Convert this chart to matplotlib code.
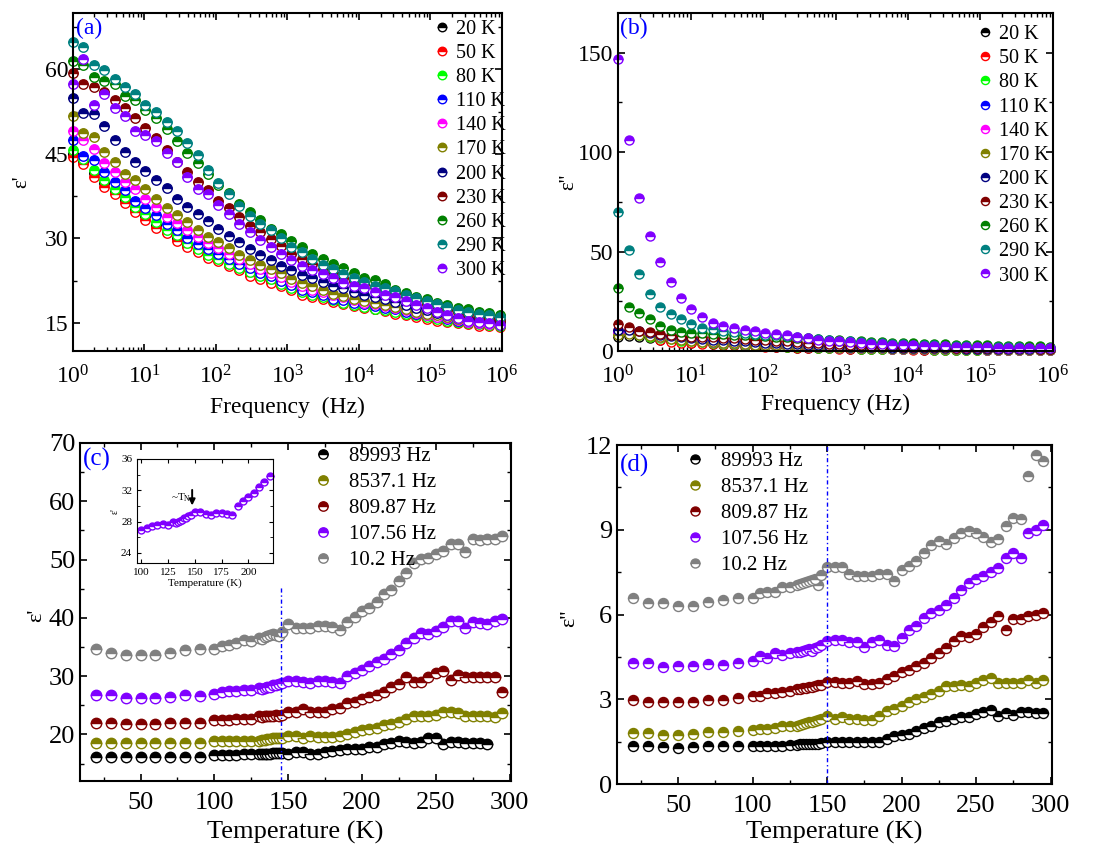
import numpy as np
import matplotlib.pyplot as plt
from matplotlib.ticker import MultipleLocator

plt.rcParams['font.family'] = ['Liberation Serif', 'DejaVu Serif']
plt.rcParams['mathtext.fontset'] = 'stix'

# ---------------- frequency sweep (panels a, b) ----------------
freq = [1.0, 1.40, 1.95, 2.73, 3.82, 5.34, 7.47, 10.2, 14.6, 20.4,
        28.5, 39.8, 55.7, 77.8, 107.56, 152, 213, 297, 416, 581,
        809.87, 1135, 1587, 2219, 3102, 4336, 6062, 8537.1, 11848, 16563,
        23155, 32371, 45254, 63265, 89993, 123645, 172856, 241652, 337830, 472286,
        660256, 923038]

temps_f = ['20 K', '50 K', '80 K', '110 K', '140 K', '170 K',
           '200 K', '230 K', '260 K', '290 K', '300 K']
colors_f = ['black', '#FF0000', '#00FF00', '#0000FF', '#FF00FF', '#808000',
            '#000080', '#800000', '#008000', '#008080', '#8000FF']

# real part eps'
e1_20 = [45.0, 43.6, 41.6, 39.8, 38.4, 36.8, 35.2, 33.9, 32.4, 31.2, 30.1, 28.8, 27.8, 26.8,
         26.1, 25.3, 24.6, 23.8, 23.0, 22.4, 21.7, 21.0, 20.3, 19.8, 19.4, 18.9, 18.5, 18.1,
         17.8, 17.5, 17.2, 16.8, 16.5, 16.2, 15.9, 15.6, 15.3, 15.1, 14.9, 14.7, 14.6, 14.6]
e1_50 = [44.5, 43.2, 40.8, 39.1, 37.9, 36.3, 34.7, 33.3, 31.8, 30.9, 29.6, 28.4, 27.5, 26.5,
         25.9, 25.1, 24.3, 23.3, 22.7, 22.1, 21.5, 20.8, 20.0, 19.6, 19.2, 18.7, 18.4, 18.0,
         17.7, 17.4, 17.1, 16.6, 16.3, 16.0, 15.7, 15.4, 15.1, 14.9, 14.7, 14.5, 14.4, 14.3]
e1_80 = [45.7, 44.0, 42.2, 40.3, 38.8, 37.3, 35.6, 34.4, 32.9, 31.4, 30.5, 29.1, 28.1, 27.1,
         26.3, 25.5, 24.8, 24.1, 23.3, 22.7, 21.9, 21.1, 20.5, 20.0, 19.6, 19.0, 18.6, 18.1,
         17.8, 17.5, 17.2, 17.0, 16.6, 16.3, 16.0, 15.7, 15.4, 15.1, 14.9, 14.7, 14.6, 14.5]
e1_110 = [47.4, 44.7, 43.9, 41.8, 40.0, 38.5, 36.7, 35.3, 34.1, 32.6, 31.5, 30.1, 29.0, 28.1,
          27.2, 26.3, 25.4, 24.7, 23.9, 23.3, 22.5, 21.7, 20.9, 20.5, 19.9, 19.3, 19.0, 18.6,
          18.3, 18.0, 17.7, 17.4, 17.0, 16.6, 16.3, 16.0, 15.7, 15.4, 15.2, 15.0, 14.9, 14.8]
e1_140 = [49.1, 47.5, 45.8, 43.4, 41.8, 40.0, 38.7, 37.0, 35.6, 33.8, 32.7, 31.5, 30.2, 29.1,
          28.3, 27.3, 26.3, 25.4, 24.5, 23.9, 23.1, 22.3, 21.5, 20.9, 20.5, 19.9, 19.5, 19.0,
          18.6, 18.3, 18.0, 17.6, 17.2, 16.8, 16.4, 16.1, 15.8, 15.5, 15.2, 15.0, 14.8, 14.7]
e1_170 = [51.7, 48.7, 48.0, 45.4, 43.6, 41.5, 40.3, 38.7, 36.9, 35.3, 34.1, 32.9, 31.4, 30.2,
          29.3, 28.3, 27.1, 26.1, 25.3, 24.5, 23.9, 22.7, 22.1, 21.5, 20.9, 20.2, 19.8, 19.3,
          18.9, 18.6, 18.1, 17.8, 17.4, 17.0, 16.6, 16.3, 16.0, 15.7, 15.5, 15.3, 15.1, 15.0]
e1_200 = [54.9, 52.2, 52.0, 49.9, 47.5, 45.4, 43.5, 42.0, 40.4, 39.0, 36.9, 35.6, 34.4, 33.0,
          31.7, 30.4, 29.3, 28.1, 27.1, 26.1, 25.1, 24.3, 23.5, 22.9, 22.3, 21.5, 21.1, 20.5,
          20.0, 19.6, 19.2, 18.7, 18.2, 17.7, 17.2, 16.8, 16.4, 16.0, 15.8, 15.6, 15.4, 15.3]
e1_230 = [59.3, 57.4, 56.9, 56.0, 54.6, 53.1, 51.4, 49.6, 47.8, 45.7, 43.6, 41.8, 40.0, 38.5,
          36.7, 35.3, 33.8, 32.1, 31.1, 29.9, 28.7, 27.2, 26.3, 25.4, 24.5, 23.9, 23.0, 22.4,
          21.8, 21.4, 20.9, 20.3, 19.7, 19.0, 18.4, 17.9, 17.3, 16.9, 16.5, 16.1, 15.8, 15.5]
e1_260 = [61.4, 60.8, 58.6, 58.0, 57.4, 55.2, 54.5, 52.7, 51.4, 49.4, 47.2, 45.2, 43.3, 41.5,
          39.4, 38.0, 36.1, 34.6, 33.3, 31.7, 30.8, 29.5, 28.4, 27.3, 26.3, 25.4, 24.8, 23.9,
          22.9, 22.6, 21.8, 20.9, 20.3, 19.6, 19.2, 18.6, 18.1, 17.7, 17.4, 17.0, 16.7, 16.4]
e1_290 = [64.9, 64.0, 60.7, 59.9, 58.3, 56.9, 55.6, 53.7, 52.4, 50.6, 49.1, 46.9, 44.8, 42.1,
          39.8, 37.9, 35.8, 34.0, 32.6, 31.4, 30.1, 28.5, 27.5, 26.3, 25.3, 24.5, 23.6, 22.9,
          22.3, 21.5, 21.2, 20.6, 20.0, 19.4, 18.8, 18.3, 17.8, 17.3, 17.0, 16.6, 16.3, 16.0]
e1_300 = [57.4, 61.9, 53.6, 55.6, 53.1, 51.7, 49.0, 48.4, 47.2, 45.1, 43.6, 40.9, 38.8, 37.9,
          36.0, 34.4, 32.6, 31.1, 29.7, 28.4, 27.3, 26.1, 25.1, 24.3, 23.6, 22.9, 22.1, 21.5,
          21.1, 20.5, 20.0, 19.5, 18.9, 18.2, 17.6, 17.0, 16.4, 15.9, 15.4, 15.1, 14.9, 14.6]

# imaginary part eps''
e2_20 = [7.0, 7.5, 7.0, 6.3, 5.6, 5.0, 4.5, 4.1, 3.8, 3.5, 3.2, 2.9, 2.7, 2.5, 2.3, 2.1, 1.9,
         1.7, 1.6, 1.5, 1.4, 1.3, 1.2, 1.1, 1.0, 0.9, 0.9, 0.8, 0.8, 0.7, 0.7, 0.6, 0.6, 0.6,
         0.5, 0.5, 0.5, 0.5, 0.5, 0.4, 0.4, 0.4]
e2_50 = [10.5, 10.0, 8.5, 7.0, 5.5, 4.5, 4.2, 4.0, 3.7, 3.4, 3.1, 2.9, 2.6, 2.4, 2.2, 2.0, 1.8,
         1.7, 1.5, 1.4, 1.3, 1.2, 1.1, 1.0, 0.9, 0.9, 0.8, 0.8, 0.7, 0.7, 0.6, 0.6, 0.6, 0.5,
         0.5, 0.5, 0.5, 0.5, 0.4, 0.4, 0.4, 0.4]
e2_80 = [8.5, 8.8, 8.0, 7.2, 6.5, 5.8, 5.2, 4.8, 4.4, 4.0, 3.7, 3.4, 3.1, 2.8, 2.6, 2.4, 2.2,
         2.0, 1.8, 1.7, 1.5, 1.4, 1.3, 1.2, 1.1, 1.0, 0.9, 0.9, 0.8, 0.8, 0.7, 0.7, 0.7, 0.6,
         0.6, 0.6, 0.5, 0.5, 0.5, 0.5, 0.5, 0.5]
e2_110 = [9.5, 9.8, 9.2, 8.5, 7.5, 6.8, 6.2, 5.6, 5.1, 4.7, 4.3, 4.0, 3.7, 3.4, 3.1, 2.9, 2.6,
          2.4, 2.2, 2.0, 1.9, 1.7, 1.6, 1.5, 1.4, 1.3, 1.2, 1.1, 1.0, 1.0, 0.9, 0.9, 0.8, 0.8,
          0.8, 0.7, 0.7, 0.7, 0.7, 0.6, 0.6, 0.6]
e2_140 = [9.0, 9.0, 8.5, 7.8, 7.0, 6.3, 5.8, 5.3, 4.9, 4.5, 4.2, 3.9, 3.6, 3.3, 3.0, 2.8, 2.6,
          2.4, 2.2, 2.0, 1.9, 1.7, 1.6, 1.5, 1.4, 1.3, 1.2, 1.1, 1.0, 1.0, 0.9, 0.9, 0.8, 0.8,
          0.8, 0.7, 0.7, 0.7, 0.7, 0.6, 0.6, 0.6]
e2_170 = [8.0, 8.5, 8.0, 7.5, 6.8, 6.0, 5.5, 5.0, 4.7, 4.4, 4.1, 3.8, 3.5, 3.2, 3.0, 2.8, 2.6,
          2.4, 2.2, 2.0, 1.8, 1.7, 1.6, 1.5, 1.4, 1.3, 1.2, 1.1, 1.0, 1.0, 0.9, 0.9, 0.8, 0.8,
          0.8, 0.7, 0.7, 0.7, 0.7, 0.6, 0.6, 0.6]
e2_200 = [10.5, 10.5, 10.0, 9.0, 8.0, 7.3, 6.8, 6.4, 6.0, 5.7, 5.4, 5.1, 4.8, 4.5, 4.2, 3.9,
          3.6, 3.3, 3.0, 2.8, 2.6, 2.4, 2.2, 2.0, 1.9, 1.8, 1.7, 1.6, 1.5, 1.4, 1.4, 1.3, 1.3,
          1.2, 1.2, 1.1, 1.1, 1.1, 1.0, 1.0, 1.0, 1.0]
e2_230 = [13.4, 12.0, 10.0, 9.6, 8.7, 8.0, 7.5, 7.2, 7.0, 6.8, 6.5, 6.3, 6.0, 5.7, 5.4, 5.1,
          4.8, 4.5, 4.2, 3.9, 3.6, 3.3, 3.1, 2.9, 2.7, 2.5, 2.4, 2.2, 2.1, 2.0, 1.9, 1.8, 1.7,
          1.6, 1.5, 1.5, 1.4, 1.4, 1.3, 1.3, 1.2, 1.2]
e2_260 = [31.5, 22.0, 19.3, 16.0, 12.6, 10.6, 9.7, 9.2, 8.8, 8.6, 8.4, 8.2, 8.0, 7.8, 7.5, 7.2,
          6.9, 6.6, 6.3, 6.0, 5.7, 5.4, 5.1, 4.8, 4.6, 4.4, 4.2, 4.0, 3.8, 3.6, 3.4, 3.3, 3.1,
          3.0, 2.9, 2.8, 2.7, 2.6, 2.5, 2.4, 2.3, 2.2]
e2_290 = [70.0, 51.0, 38.6, 28.5, 22.3, 18.5, 16.0, 13.4, 11.4, 10.9, 10.0, 9.5, 9.0, 8.6, 8.2,
          7.8, 7.3, 6.9, 6.4, 6.0, 5.6, 5.2, 4.8, 4.5, 4.2, 3.9, 3.6, 3.4, 3.2, 3.0, 2.8, 2.6,
          2.5, 2.3, 2.2, 2.1, 2.0, 1.9, 1.8, 1.7, 1.6, 1.5]
e2_300 = [147.0, 106.0, 77.0, 58.0, 45.0, 34.7, 26.6, 21.0, 17.0, 14.3, 12.6, 11.6, 10.7, 10.0,
          9.2, 8.5, 7.8, 7.0, 6.3, 5.7, 5.2, 4.8, 4.4, 4.0, 3.7, 3.4, 3.2, 3.0, 2.8, 2.6, 2.4,
          2.3, 2.1, 2.0, 1.9, 1.8, 1.7, 1.6, 1.5, 1.5, 1.4, 1.4]

# ---------------- temperature sweep (panels c, d) ----------------
temp = [20, 30, 40, 50, 60, 70, 80, 90,
        100, 105, 110, 115, 120, 125,
        130, 132, 134, 136, 138, 140, 142, 144, 146,
        150, 155, 160, 165, 170, 175, 180, 185, 190, 195,
        200, 205, 210, 215, 220, 225, 230, 235, 240, 245,
        250, 255, 260, 265, 270, 275, 280, 285, 290, 295]

freq_labels = ['89993 Hz', '8537.1 Hz', '809.87 Hz', '107.56 Hz', '10.2 Hz']
colors_t = ['black', '#808000', '#800000', '#8000FF', '#808080']
nan = np.nan

c_89993 = [16.2, 16.2, 16.2, 16.2, 16.2, 16.2, 16.2, 16.2,
           16.4, 16.4, 16.5, 16.5, 16.6, 16.6,
           16.6, 16.6, 16.7, 16.7, 16.7, 16.8, 16.8, 16.8, 16.8,
           16.7, 17.0, 17.0, 16.6, 16.6, 17.0, 17.1, 17.4, 17.5, 17.5,
           17.5, 17.8, 17.9, 18.3, 18.5, 18.9, 18.7, 18.5, 18.7, 19.3,
           19.3, 18.3, 18.7, 18.7, 18.5, 18.5, 18.5, 18.4, nan, nan]
c_8537 = [18.5, 18.5, 18.5, 18.5, 18.5, 18.5, 18.5, 18.5,
          18.8, 18.8, 18.8, 18.8, 18.8, 18.8,
          18.9, 19.0, 19.1, 19.2, 19.2, 19.3, 19.3, 19.3, 19.4,
          19.8, 19.8, 19.3, 19.7, 19.5, 19.5, 19.5, 19.7, 20.1, 20.4,
          20.7, 21.0, 21.1, 21.6, 21.8, 22.1, 22.7, 23.1, 23.1, 23.1,
          23.4, 23.9, 23.9, 23.6, 23.1, 23.1, 23.1, 23.1, 23.0, 23.7]
c_809 = [22.0, 22.0, 21.7, 21.7, 21.7, 22.0, 22.0, 22.0,
         22.4, 22.4, 22.4, 22.7, 22.7, 22.7,
         23.1, 23.0, 23.1, 23.2, 23.1, 23.2, 23.3, 23.1, 23.3,
         23.9, 23.9, 24.3, 23.9, 23.9, 23.9, 24.3, 24.6, 25.3, 25.6,
         26.0, 26.4, 26.7, 27.3, 28.2, 28.7, 29.8, 29.0, 29.0, 29.8,
         30.5, 30.9, 29.4, 30.2, 29.9, 29.9, 29.9, 29.9, 29.9, 27.3]
c_107 = [26.7, 26.7, 26.3, 26.3, 26.3, 26.4, 26.7, 26.6,
         26.9, 27.2, 27.4, 27.5, 27.7, 27.6,
         27.9, 27.8, 27.9, 28.1, 28.2, 28.4, 28.5, 28.7, 28.9,
         29.2, 29.2, 29.0, 28.9, 29.1, 29.1, 29.0, 28.9, 30.0, 30.6,
         31.1, 31.7, 32.4, 33.0, 33.8, 34.5, 35.6, 36.5, 37.4, 37.2,
         37.8, 38.5, 39.4, 39.4, 38.2, 39.2, 39.1, 39.0, 39.4, 39.8]
c_10 = [34.6, 34.0, 33.7, 33.7, 33.7, 34.0, 34.5, 34.7,
        34.7, 35.1, 35.3, 35.6, 36.2, 36.1,
        36.5, 36.4, 36.7, 36.9, 37.0, 37.2, 37.0, 36.9, 37.6,
        38.9, 38.2, 38.2, 38.2, 38.6, 38.6, 38.5, 37.9, 39.2, 40.1,
        41.1, 41.7, 42.8, 44.1, 44.8, 46.3, 47.7, 49.4, 50.1, 50.3,
        50.9, 51.4, 52.6, 52.6, 51.3, 53.6, 53.4, 53.6, 53.6, 54.0]

d_89993 = [1.33, 1.33, 1.31, 1.27, 1.31, 1.33, 1.33, 1.33,
           1.33, 1.34, 1.35, 1.36, 1.33, 1.38,
           1.39, 1.40, 1.40, 1.41, 1.41, 1.42, 1.42, 1.43, 1.45,
           1.47, 1.47, 1.47, 1.50, 1.50, 1.50, 1.50, 1.50, 1.59, 1.69,
           1.75, 1.78, 1.86, 1.98, 2.06, 2.18, 2.22, 2.30, 2.37, 2.37,
           2.49, 2.54, 2.61, 2.42, 2.51, 2.45, 2.54, 2.54, 2.51, 2.51]
d_8537 = [1.80, 1.80, 1.75, 1.75, 1.78, 1.83, 1.83, 1.86,
          1.92, 1.95, 1.95, 1.98, 2.04, 2.06,
          2.06, 2.08, 2.12, 2.15, 2.18, 2.20, 2.24, 2.27, 2.30,
          2.39, 2.30, 2.37, 2.30, 2.30, 2.28, 2.28, 2.39, 2.57, 2.65,
          2.75, 2.89, 3.00, 3.08, 3.20, 3.31, 3.46, 3.46, 3.51, 3.46,
          3.57, 3.67, 3.75, 3.57, 3.57, 3.57, 3.57, 3.69, 3.57, 3.67]
d_809 = [2.98, 2.92, 2.89, 2.89, 2.89, 2.96, 2.98, 3.04,
         3.12, 3.12, 3.22, 3.22, 3.24, 3.31,
         3.36, 3.38, 3.40, 3.40, 3.42, 3.45, 3.47, 3.50, 3.51,
         3.60, 3.60, 3.57, 3.57, 3.63, 3.55, 3.55, 3.57, 3.71, 3.83,
         3.95, 4.02, 4.19, 4.30, 4.46, 4.63, 4.81, 5.08, 5.25, 5.22,
         5.32, 5.55, 5.75, 5.96, 5.44, 5.84, 5.84, 5.93, 5.99, 6.07]
d_107 = [4.28, 4.28, 4.14, 4.19, 4.19, 4.26, 4.22, 4.30,
         4.34, 4.52, 4.46, 4.63, 4.58, 4.63,
         4.69, 4.66, 4.72, 4.75, 4.78, 4.70, 4.82, 4.85, 4.93,
         5.08, 5.10, 5.10, 5.01, 5.01, 4.85, 5.01, 5.10, 4.93, 4.89,
         5.17, 5.44, 5.60, 5.87, 6.05, 6.17, 6.34, 6.58, 6.87, 7.11,
         7.25, 7.35, 7.49, 7.64, 8.00, 8.17, 8.00, 8.90, 9.00, 9.17]
d_10 = [6.58, 6.40, 6.40, 6.31, 6.31, 6.46, 6.52, 6.58,
        6.58, 6.76, 6.79, 6.79, 6.97, 6.97,
        7.05, 7.08, 7.10, 7.15, 7.20, 7.22, 7.25, 7.03, 7.40,
        7.70, 7.70, 7.70, 7.44, 7.35, 7.35, 7.35, 7.44, 7.44, 7.17,
        7.58, 7.72, 7.88, 8.17, 8.47, 8.62, 8.50, 8.70, 8.88, 8.94,
        8.88, 8.76, 8.55, 8.67, 9.12, 9.41, 9.38, 10.90, 11.65, 11.42]

# Neel temperature guide lines
tn_c, tn_c_top = 145, 45.5
tn_d = 150


def half(color, ms):
    # half-filled circle: coloured top, white bottom
    return dict(marker='o', ls='none', ms=ms, mfc=color, mec=color,
                mfcalt='white', fillstyle='top', mew=1.0, clip_on=False)


def style_axes(ax, size, xpad=6):
    ax.tick_params(which='both', direction='in', top=True, right=True, labelsize=size)
    ax.tick_params(axis='x', which='both', pad=xpad)
    ax.tick_params(which='major', length=5, width=1.2)
    ax.tick_params(which='minor', length=3, width=1.0)
    for s in ax.spines.values():
        s.set_linewidth(1.5)


fig = plt.figure(figsize=(11.04, 8.56), dpi=100)
ax_a = fig.add_axes([0.0661, 0.5900, 0.3886, 0.3948])
ax_b = fig.add_axes([0.5598, 0.5900, 0.3940, 0.3948])
ax_c = fig.add_axes([0.0725, 0.0876, 0.3904, 0.3949])
ax_d = fig.add_axes([0.5589, 0.0841, 0.3940, 0.3960])

leg_f = dict(loc='upper left', frameon=False, fontsize=14.5, handlelength=1.0,
             handletextpad=0.22, labelspacing=0.25, borderpad=0, markerscale=0.9)
leg_t = dict(loc='upper left', frameon=False, fontsize=15, handlelength=1.0,
             handletextpad=0.75, labelspacing=0.31, borderpad=0, markerscale=0.9)

# (a) eps' vs frequency
e1_all = [e1_20, e1_50, e1_80, e1_110, e1_140, e1_170, e1_200, e1_230, e1_260, e1_290, e1_300]
for y, c, lab in zip(e1_all, colors_f, temps_f):
    ax_a.plot(freq, y, label=lab, **half(c, 6.8))
ax_a.set_xscale('log')
ax_a.set_xlim(1, 1e6)
ax_a.set_ylim(10, 70)
ax_a.yaxis.set_major_locator(MultipleLocator(15))
ax_a.yaxis.set_minor_locator(MultipleLocator(7.5))
style_axes(ax_a, 17, xpad=10)
ax_a.set_xlabel('Frequency  (Hz)', fontsize=17, labelpad=6)
ax_a.set_ylabel("ε'", fontsize=15)
ax_a.yaxis.set_label_coords(-0.097, 0.5)
ax_a.text(0.008, 0.985, '(a)', color='blue', fontsize=17, va='top', transform=ax_a.transAxes)
ax_a.legend(bbox_to_anchor=(0.813, 1.01), **leg_f)

# (b) eps'' vs frequency
e2_all = [e2_20, e2_50, e2_80, e2_110, e2_140, e2_170, e2_200, e2_230, e2_260, e2_290, e2_300]
for y, c, lab in zip(e2_all, colors_f, temps_f):
    ax_b.plot(freq, y, label=lab, **half(c, 6.5))
ax_b.set_xscale('log')
ax_b.set_xlim(1, 1e6)
ax_b.set_ylim(0, 170)
ax_b.yaxis.set_major_locator(MultipleLocator(50))
ax_b.yaxis.set_minor_locator(MultipleLocator(25))
style_axes(ax_b, 17, xpad=10)
ax_b.set_xlabel('Frequency (Hz)', fontsize=17, labelpad=4)
ax_b.set_ylabel("ε''", fontsize=15)
ax_b.yaxis.set_label_coords(-0.092, 0.5)
ax_b.text(0.004, 0.985, '(b)', color='blue', fontsize=17, va='top', transform=ax_b.transAxes)
ax_b.legend(bbox_to_anchor=(0.797, 0.994), **leg_f)

# (c) eps' vs temperature
c_all = [c_89993, c_8537, c_809, c_107, c_10]
for y, c, lab in zip(c_all, colors_t, freq_labels):
    ax_c.plot(temp, y, label=lab, **half(c, 7.5))
ax_c.plot([tn_c, tn_c], [12, tn_c_top], color='blue', lw=1.0, ls=(0, (3, 2, 1, 2)))
ax_c.set_xlim(9, 301)
ax_c.set_ylim(12, 70)
ax_c.xaxis.set_major_locator(MultipleLocator(50))
ax_c.xaxis.set_minor_locator(MultipleLocator(25))
ax_c.yaxis.set_major_locator(MultipleLocator(10))
ax_c.yaxis.set_minor_locator(MultipleLocator(5))
style_axes(ax_c, 19, xpad=8)
ax_c.set_xlabel('Temperature (K)', fontsize=19, labelpad=5)
ax_c.set_ylabel("ε'", fontsize=16)
ax_c.yaxis.set_label_coords(-0.078, 0.49)
ax_c.text(0.006, 0.985, '(c)', color='blue', fontsize=18, va='top', transform=ax_c.transAxes)
ax_c.legend(bbox_to_anchor=(0.515, 1.02), **leg_t)

# inset: zoom on 107.56 Hz around T_N
ax_in = fig.add_axes([0.1241, 0.3423, 0.1232, 0.1215])
t_arr = np.array(temp)
sel = (t_arr >= 100) & (t_arr <= 222)
ax_in.plot(t_arr[sel], np.array(c_107)[sel], **half('#8000FF', 5.0))
ax_in.set_xlim(96, 223)
ax_in.set_ylim(22.7, 36)
ax_in.xaxis.set_major_locator(MultipleLocator(25))
ax_in.yaxis.set_major_locator(MultipleLocator(4))
ax_in.yaxis.set_minor_locator(MultipleLocator(2))
ax_in.tick_params(which='both', direction='in', top=True, right=True, labelsize=8)
ax_in.tick_params(which='major', length=3)
ax_in.tick_params(which='minor', length=2)
ax_in.set_xlabel('Temperature (K)', fontsize=8, labelpad=1)
ax_in.set_ylabel("ε'", fontsize=7, labelpad=1)
ax_in.annotate('', xy=(147.5, 29.7), xytext=(147.5, 32.4),
               arrowprops=dict(arrowstyle='-|>', color='black', lw=1.4, mutation_scale=9))
ax_in.text(137, 31.0, r'~T$_\mathregular{N}$', fontsize=8, ha='center', va='center')

# (d) eps'' vs temperature
d_all = [d_89993, d_8537, d_809, d_107, d_10]
for y, c, lab in zip(d_all, colors_t, freq_labels):
    ax_d.plot(temp, y, label=lab, **half(c, 7.2))
ax_d.axvline(tn_d, color='blue', lw=1.0, ls=(0, (3, 2, 1, 2)))
ax_d.set_xlim(9, 301)
ax_d.set_ylim(0, 12)
ax_d.xaxis.set_major_locator(MultipleLocator(50))
ax_d.xaxis.set_minor_locator(MultipleLocator(25))
ax_d.yaxis.set_major_locator(MultipleLocator(3))
ax_d.yaxis.set_minor_locator(MultipleLocator(1.5))
style_axes(ax_d, 19, xpad=8)
ax_d.set_xlabel('Temperature (K)', fontsize=19, labelpad=3)
ax_d.set_ylabel("ε''", fontsize=16)
ax_d.yaxis.set_label_coords(-0.088, 0.49)
ax_d.text(0.006, 0.975, '(d)', color='blue', fontsize=18, va='top', transform=ax_d.transAxes)
ax_d.legend(bbox_to_anchor=(0.132, 1.012), **leg_t)

fig.savefig('out.png', dpi=100)
